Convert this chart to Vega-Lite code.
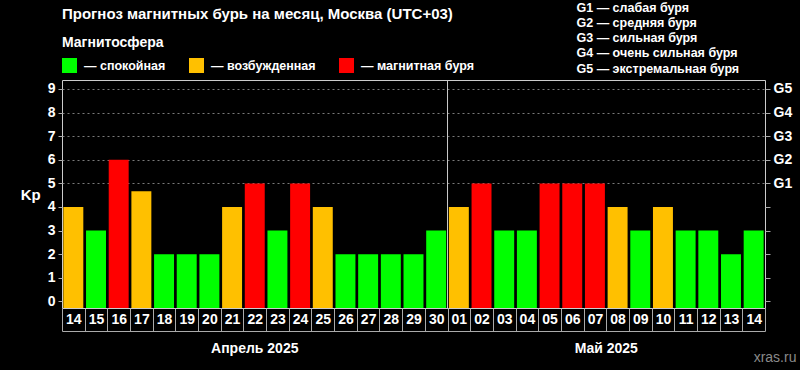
{
  "$schema": "https://vega.github.io/schema/vega-lite/v6.json",
  "background": "#000000",
  "autosize": {"type": "none"},
  "width": 703,
  "height": 228,
  "padding": {"left": 62, "top": 80, "right": 35, "bottom": 62},
  "config": {
    "font": "Liberation Sans",
    "view": {"stroke": "#cccccc", "strokeWidth": 1}
  },
  "title": {
    "text": "Прогноз магнитных бурь на месяц, Москва (UTC+03)",
    "anchor": "start",
    "frame": "group",
    "baseline": "alphabetic",
    "color": "#ffffff",
    "fontSize": 15,
    "fontWeight": "bold",
    "offset": -32
  },
  "datasets": {
    "bars": [
      {"d": "04-14", "kp": 4, "s": "возбужденная"},
      {"d": "04-15", "kp": 3, "s": "спокойная"},
      {"d": "04-16", "kp": 6, "s": "магнитная буря"},
      {"d": "04-17", "kp": 4.67, "s": "возбужденная"},
      {"d": "04-18", "kp": 2, "s": "спокойная"},
      {"d": "04-19", "kp": 2, "s": "спокойная"},
      {"d": "04-20", "kp": 2, "s": "спокойная"},
      {"d": "04-21", "kp": 4, "s": "возбужденная"},
      {"d": "04-22", "kp": 5, "s": "магнитная буря"},
      {"d": "04-23", "kp": 3, "s": "спокойная"},
      {"d": "04-24", "kp": 5, "s": "магнитная буря"},
      {"d": "04-25", "kp": 4, "s": "возбужденная"},
      {"d": "04-26", "kp": 2, "s": "спокойная"},
      {"d": "04-27", "kp": 2, "s": "спокойная"},
      {"d": "04-28", "kp": 2, "s": "спокойная"},
      {"d": "04-29", "kp": 2, "s": "спокойная"},
      {"d": "04-30", "kp": 3, "s": "спокойная"},
      {"d": "05-01", "kp": 4, "s": "возбужденная"},
      {"d": "05-02", "kp": 5, "s": "магнитная буря"},
      {"d": "05-03", "kp": 3, "s": "спокойная"},
      {"d": "05-04", "kp": 3, "s": "спокойная"},
      {"d": "05-05", "kp": 5, "s": "магнитная буря"},
      {"d": "05-06", "kp": 5, "s": "магнитная буря"},
      {"d": "05-07", "kp": 5, "s": "магнитная буря"},
      {"d": "05-08", "kp": 4, "s": "возбужденная"},
      {"d": "05-09", "kp": 3, "s": "спокойная"},
      {"d": "05-10", "kp": 4, "s": "возбужденная"},
      {"d": "05-11", "kp": 3, "s": "спокойная"},
      {"d": "05-12", "kp": 3, "s": "спокойная"},
      {"d": "05-13", "kp": 2, "s": "спокойная"},
      {"d": "05-14", "kp": 3, "s": "спокойная"}
    ],
    "glevels": [
      {"kp": 5, "g": "G1 — слабая буря"},
      {"kp": 6, "g": "G2 — средняя буря"},
      {"kp": 7, "g": "G3 — сильная буря"},
      {"kp": 8, "g": "G4 — очень сильная буря"},
      {"kp": 9, "g": "G5 — экстремальная буря"}
    ],
    "notes": [
      {"kind": "apr", "d": "04-22", "kp": -2.0, "label": "Апрель 2025"},
      {"kind": "may", "d": "05-08", "kp": -2.0, "label": "Май 2025"},
      {"kind": "wm", "d": "05-14", "kp": -2.39, "label": "xras.ru"},
      {"kind": "sep", "d": "05-01"}
    ]
  },
  "resolve": {"axis": {"x": "independent", "y": "independent"}},
  "layer": [
    {
      "data": {"name": "bars"},
      "mark": {"type": "bar", "width": {"band": 0.88}},
      "encoding": {
        "x": {
          "field": "d",
          "type": "ordinal",
          "sort": null,
          "title": null,
          "scale": {"paddingInner": 0, "paddingOuter": 0},
          "axis": {
            "orient": "bottom",
            "offset": 23,
            "domain": true,
            "domainColor": "#aaaaaa",
            "domainWidth": 1,
            "tickBand": "extent",
            "tickSize": -23,
            "tickColor": "#aaaaaa",
            "tickWidth": 1,
            "labelExpr": "slice(datum.label, 3)",
            "labelAngle": 0,
            "labelAlign": "center",
            "labelBaseline": "middle",
            "labelPadding": 11.5,
            "labelColor": "#ffffff",
            "labelFontSize": 14,
            "labelFontWeight": "bold",
            "labelOverlap": false,
            "grid": false
          }
        },
        "y": {
          "field": "kp",
          "type": "quantitative",
          "scale": {"domain": [-0.28, 9.38], "nice": false, "zero": false},
          "axis": {
            "orient": "left",
            "values": [0, 1, 2, 3, 4, 5, 6, 7, 8, 9],
            "title": "Kp",
            "titleAngle": 0,
            "titleAlign": "right",
            "titleBaseline": "middle",
            "titlePadding": 7,
            "titleColor": "#ffffff",
            "titleFontSize": 15,
            "titleFontWeight": "bold",
            "domain": false,
            "tickColor": "#aaaaaa",
            "tickSize": 4,
            "labelPadding": 3,
            "labelColor": "#ffffff",
            "labelFontSize": 14,
            "labelFontWeight": "bold",
            "grid": true,
            "gridColor": "#7a7a7a",
            "gridDash": [2, 3],
            "gridWidth": 1,
            "gridOpacity": {"condition": {"test": "datum.value >= 5", "value": 1}, "value": 0}
          }
        },
        "y2": {"datum": -0.28},
        "color": {
          "field": "s",
          "type": "nominal",
          "scale": {
            "domain": ["спокойная", "возбужденная", "магнитная буря"],
            "range": ["#00ff00", "#ffc000", "#ff0000"]
          },
          "legend": {
            "title": "Магнитосфера",
            "orient": "none",
            "legendX": 0,
            "legendY": -44,
            "direction": "horizontal",
            "titleColor": "#ffffff",
            "titleFontSize": 14,
            "titleFontWeight": "bold",
            "titlePadding": 8,
            "symbolType": "square",
            "symbolSize": 225,
            "symbolStrokeWidth": 0,
            "symbolOpacity": 1,
            "labelColor": "#ffffff",
            "labelFontSize": 12.5,
            "labelFontWeight": "bold",
            "labelOffset": 7,
            "columnPadding": 23,
            "labelExpr": "'— ' + datum.label"
          }
        }
      }
    },
    {
      "data": {"name": "notes"},
      "transform": [{"filter": "datum.kind == 'sep'"}],
      "mark": {"type": "rule", "color": "#cccccc", "strokeWidth": 1},
      "encoding": {
        "x": {"field": "d", "type": "ordinal", "bandPosition": 0, "axis": null}
      }
    },
    {
      "data": {"name": "glevels"},
      "mark": {"type": "point", "opacity": 0},
      "encoding": {
        "x": {"value": 0},
        "y": {
          "field": "kp",
          "type": "quantitative",
          "scale": {"domain": [-0.28, 9.38], "nice": false, "zero": false},
          "axis": {
            "orient": "right",
            "values": [0, 1, 2, 3, 4, 5, 6, 7, 8, 9],
            "labelExpr": "datum.value >= 5 ? 'G' + (datum.value - 4) : ''",
            "title": null,
            "domain": false,
            "grid": false,
            "tickColor": "#aaaaaa",
            "tickSize": 5,
            "labelPadding": 3,
            "labelColor": "#ffffff",
            "labelFontSize": 14,
            "labelFontWeight": "bold"
          }
        },
        "shape": {
          "field": "g",
          "type": "nominal",
          "legend": {
            "title": null,
            "orient": "none",
            "legendX": 502,
            "legendY": -78.5,
            "symbolSize": 1,
            "symbolOpacity": 0,
            "symbolStrokeWidth": 0,
            "labelOffset": 0,
            "labelLimit": 400,
            "labelColor": "#ffffff",
            "labelFontSize": 12.5,
            "labelFontWeight": "bold",
            "rowPadding": 2.2
          }
        }
      }
    },
    {
      "data": {"name": "notes"},
      "transform": [{"filter": "datum.kind == 'apr'"}],
      "mark": {"type": "text", "align": "center", "baseline": "middle", "color": "#ffffff", "fontSize": 14, "fontWeight": "bold"},
      "encoding": {
        "x": {"field": "d", "type": "ordinal", "bandPosition": 0.5, "axis": null},
        "y": {"field": "kp", "type": "quantitative", "axis": null, "scale": {"domain": [-0.28, 9.38], "nice": false, "zero": false}},
        "text": {"field": "label"}
      }
    },
    {
      "data": {"name": "notes"},
      "transform": [{"filter": "datum.kind == 'may'"}],
      "mark": {"type": "text", "align": "center", "baseline": "middle", "color": "#ffffff", "fontSize": 14, "fontWeight": "bold"},
      "encoding": {
        "x": {"field": "d", "type": "ordinal", "bandPosition": 0, "axis": null},
        "y": {"field": "kp", "type": "quantitative", "axis": null, "scale": {"domain": [-0.28, 9.38], "nice": false, "zero": false}},
        "text": {"field": "label"}
      }
    },
    {
      "data": {"name": "notes"},
      "transform": [{"filter": "datum.kind == 'wm'"}],
      "mark": {"type": "text", "align": "left", "baseline": "middle", "color": "#8a8a8a", "fontSize": 14},
      "encoding": {
        "x": {"field": "d", "type": "ordinal", "bandPosition": 0.5, "axis": null},
        "y": {"field": "kp", "type": "quantitative", "axis": null, "scale": {"domain": [-0.28, 9.38], "nice": false, "zero": false}},
        "text": {"field": "label"}
      }
    }
  ]
}
